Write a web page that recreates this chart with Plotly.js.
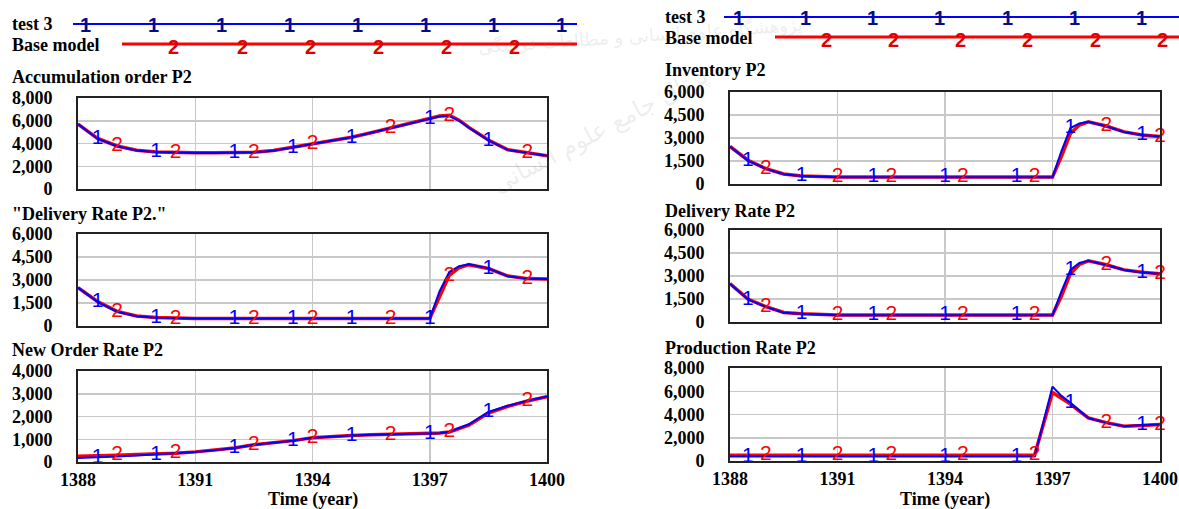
<!DOCTYPE html>
<html>
<head>
<meta charset="utf-8">
<script src="https://cdn.plot.ly/plotly-3.0.1.min.js"></script>
<style>
  html, body { margin: 0; padding: 0; background: #fff; }
  #chart { width: 1179px; height: 509px; }
</style>
</head>
<body>
<div id="chart"></div>
<script>
// Simulation time (year) shared by every series
const time = [1388, 1388.5, 1389, 1389.5, 1390, 1390.5, 1391, 1391.5, 1392, 1392.5,
              1393, 1393.5, 1394, 1394.5, 1395, 1395.5, 1396, 1396.5, 1397, 1397.25,
              1397.5, 1397.75, 1398, 1398.5, 1399, 1399.5, 1400];

// Accumulation order P2
const accumBase = [5700, 4450, 3780, 3400, 3260, 3200, 3180, 3180, 3180, 3230,
                   3380, 3660, 3970, 4260, 4550, 4950, 5350, 5750, 6200, 6420,
                   6480, 6050, 5420, 4300, 3450, 3160, 2920];
const accumTest = [5700, 4420, 3760, 3390, 3250, 3190, 3170, 3170, 3170, 3220,
                   3370, 3650, 3960, 4250, 4540, 4940, 5340, 5740, 6200, 6380,
                   6420, 6000, 5400, 4280, 3440, 3150, 2920];

// "Delivery Rate P2." (left)
const delivLBase = [2500, 1600, 950, 650, 550, 500, 490, 490, 490, 490,
                    490, 490, 490, 490, 490, 490, 490, 490, 490, 1900,
                    3300, 3800, 4000, 3750, 3260, 3090, 3060];
const delivLTest = [2500, 1580, 930, 640, 545, 495, 485, 485, 485, 485,
                    485, 485, 485, 485, 485, 485, 485, 485, 485, 2250,
                    3520, 3900, 4020, 3760, 3250, 3080, 3060];

// New Order Rate P2
const orderBase = [250, 260, 300, 330, 350, 390, 445, 520, 620, 760,
                   850, 940, 1070, 1130, 1170, 1200, 1220, 1240, 1260, 1270,
                   1320, 1450, 1620, 2150, 2450, 2680, 2870];
const orderTest = [180, 200, 240, 290, 330, 380, 440, 515, 615, 755,
                   845, 935, 1065, 1125, 1165, 1195, 1215, 1235, 1255, 1265,
                   1330, 1480, 1660, 2200, 2470, 2690, 2880];

// Inventory P2
const invBase = [2450, 1550, 1000, 650, 520, 470, 450, 450, 450, 450,
                 450, 450, 450, 450, 450, 450, 450, 450, 450, 1800,
                 3300, 3850, 4050, 3780, 3400, 3200, 3100];
const invTest = [2450, 1530, 990, 640, 515, 465, 445, 445, 445, 445,
                 445, 445, 445, 445, 445, 445, 445, 445, 445, 2150,
                 3650, 3950, 4060, 3770, 3390, 3190, 3100];

// Delivery Rate P2 (right)
const delivRBase = [2500, 1500, 1000, 620, 540, 480, 450, 450, 450, 450,
                    450, 450, 450, 450, 450, 450, 450, 450, 450, 1700,
                    3150, 3750, 3990, 3730, 3400, 3240, 3150];
const delivRTest = [2500, 1480, 990, 610, 535, 475, 445, 445, 445, 445,
                    445, 445, 445, 445, 445, 445, 445, 445, 445, 2000,
                    3400, 3850, 4000, 3720, 3390, 3230, 3150];

// Production Rate P2
const prodBase = [500, 500, 500, 500, 500, 500, 500, 500, 500, 500,
                  500, 500, 500, 500, 500, 500, 500, 500, 5900, 5400,
                  4900, 4300, 3700, 3300, 3000, 3050, 3150];
const prodTest = [380, 380, 380, 380, 380, 380, 380, 380, 380, 380,
                  380, 380, 380, 380, 380, 380, 380, 380, 6400, 5600,
                  5000, 4350, 3700, 3280, 3000, 3100, 3150];

// Times at which the run numbers are printed on each curve
const leftMarksTest  = [1388.5, 1390, 1392, 1393.5, 1395, 1397, 1398.5];
const leftMarksBase  = [1389, 1390.5, 1392.5, 1394, 1396, 1397.5, 1399.5];
const rightMarksTest = [1388.5, 1390, 1392, 1394, 1396, 1397.5, 1399.5];
const rightMarksBase = [1389, 1391, 1392.5, 1394.5, 1396.5, 1398.5, 1400];

// Run names and shared labels
const runTest = 'test 3';
const runBase = 'Base model';
const timeLabel = 'Time (year)';
const sealTop = 'پژوهشگاه علوم انسانی و مطالعات فرهنگی';
const sealBottom = 'پرتال جامع علوم انسانی';

const W = 1179, H = 509;
const px = x => x / W;
const py = y => 1 - y / H;

const BLUE = '#0000ff', RED = '#ff0000';
const labelFont = {family: 'Liberation Serif', size: 18, color: '#000', weight: 'bold'};
const tickFont = {family: 'Liberation Serif', size: 18, color: '#000', weight: 'bold'};

const panels = [
  {title: 'Accumulation order P2', base: accumBase, test: accumTest, ymax: 8000, dtick: 2000,
   x0: 78, x1: 547, top: 98, bottom: 189, titleY: 77, side: 'left', last: false},
  {title: '"Delivery Rate P2."', base: delivLBase, test: delivLTest, ymax: 6000, dtick: 1500,
   x0: 78, x1: 547, top: 234, bottom: 326, titleY: 214, side: 'left', last: false},
  {title: 'New Order Rate P2', base: orderBase, test: orderTest, ymax: 4000, dtick: 1000,
   x0: 78, x1: 547, top: 371, bottom: 462, titleY: 350, side: 'left', last: true},
  {title: 'Inventory P2', base: invBase, test: invTest, ymax: 6000, dtick: 1500,
   x0: 730, x1: 1160, top: 92, bottom: 184, titleY: 70, side: 'right', last: false},
  {title: 'Delivery Rate P2', base: delivRBase, test: delivRTest, ymax: 6000, dtick: 1500,
   x0: 730, x1: 1160, top: 230, bottom: 322, titleY: 211, side: 'right', last: false},
  {title: 'Production Rate P2', base: prodBase, test: prodTest, ymax: 8000, dtick: 2000,
   x0: 730, x1: 1160, top: 368, bottom: 461, titleY: 348, side: 'right', last: true}
];

const data = [];
const layout = {
  width: W, height: H,
  margin: {l: 0, r: 0, t: 0, b: 0},
  paper_bgcolor: '#fff', plot_bgcolor: '#fff',
  showlegend: false,
  annotations: [], shapes: []
};

function markText(marks, label) {
  return time.map(t => marks.includes(t) ? label : '');
}

// Faint institutional seal printed behind the figure
layout.annotations.push({xref: 'paper', yref: 'paper', x: px(640), y: py(36),
  xanchor: 'center', yanchor: 'middle', showarrow: false, text: sealTop, textangle: -4,
  font: {family: 'DejaVu Sans', size: 18, color: 'rgba(120,120,120,0.14)'}});
layout.annotations.push({xref: 'paper', yref: 'paper', x: px(600), y: py(130),
  xanchor: 'center', yanchor: 'middle', showarrow: false, text: sealBottom, textangle: -28,
  font: {family: 'DejaVu Sans', size: 24, color: 'rgba(120,120,120,0.14)'}});

panels.forEach((p, i) => {
  const n = i + 1;
  const xa = 'x' + (n === 1 ? '' : n), ya = 'y' + (n === 1 ? '' : n);
  const xKey = 'xaxis' + (n === 1 ? '' : n), yKey = 'yaxis' + (n === 1 ? '' : n);
  const mTest = p.side === 'left' ? leftMarksTest : rightMarksTest;
  const mBase = p.side === 'left' ? leftMarksBase : rightMarksBase;

  data.push({x: time, y: p.base, xaxis: xa, yaxis: ya, type: 'scatter', mode: 'lines',
             line: {color: RED, width: 3.5}, hoverinfo: 'skip'});
  data.push({x: time, y: p.test, xaxis: xa, yaxis: ya, type: 'scatter', mode: 'lines',
             line: {color: BLUE, width: 2}, hoverinfo: 'skip'});
  data.push({x: time, y: p.base, xaxis: xa, yaxis: ya, type: 'scatter', mode: 'text',
             text: markText(mBase, '2'), textposition: 'middle center', cliponaxis: false,
             textfont: {family: 'Liberation Sans', size: 21, color: RED}, hoverinfo: 'skip'});
  data.push({x: time, y: p.test, xaxis: xa, yaxis: ya, type: 'scatter', mode: 'text',
             text: markText(mTest, '1'), textposition: 'middle center', cliponaxis: false,
             textfont: {family: 'Liberation Sans', size: 21, color: BLUE}, hoverinfo: 'skip'});

  layout[xKey] = {
    domain: [px(p.x0), px(p.x1)], anchor: ya, range: [1388, 1400],
    tick0: 1388, dtick: 3, showgrid: true, gridcolor: '#c8c8c8', gridwidth: 1.5,
    showline: true, linecolor: '#222', linewidth: 2, mirror: true, zeroline: false,
    ticks: '', showticklabels: p.last, tickfont: tickFont, ticklabelstandoff: 0,
    ticklabeloverflow: 'allow', fixedrange: true
  };
  layout[yKey] = {
    domain: [py(p.bottom), py(p.top)], anchor: xa, range: [0, p.ymax],
    tick0: 0, dtick: p.dtick, tickformat: ',d', showgrid: true, gridcolor: '#c8c8c8', gridwidth: 1.5,
    showline: true, linecolor: '#222', linewidth: 2, mirror: true, zeroline: false,
    ticks: '', tickfont: tickFont, ticklabelstandoff: 20, fixedrange: true
  };

  layout.annotations.push({
    xref: 'paper', yref: 'paper', x: px(p.side === 'left' ? 10 : 663), y: py(p.titleY),
    xanchor: 'left', yanchor: 'middle', showarrow: false, text: p.title, font: labelFont
  });
  if (p.last) {
    layout.annotations.push({
      xref: 'paper', yref: 'paper', x: px((p.x0 + p.x1) / 2), y: py(499),
      xanchor: 'center', yanchor: 'middle', showarrow: false, text: timeLabel, font: labelFont
    });
  }
});

// Run key above each column: a coloured line with its run number repeated along it
const keys = [
  {labelX: 10, testY: 24, baseY: 45, testX0: 73, baseX0: 122, xEnd: 577,
   testMark0: 85, baseMark0: 174, step: 68, testCount: 8, baseCount: 6},
  {labelX: 663, testY: 17, baseY: 38, testX0: 724, baseX0: 775, xEnd: 1179,
   testMark0: 738, baseMark0: 826, step: 67.3, testCount: 7, baseCount: 6}
];
keys.forEach(k => {
  layout.annotations.push({xref: 'paper', yref: 'paper', x: px(k.labelX), y: py(k.testY),
    xanchor: 'left', yanchor: 'middle', showarrow: false, text: runTest, font: labelFont});
  layout.annotations.push({xref: 'paper', yref: 'paper', x: px(k.labelX), y: py(k.baseY),
    xanchor: 'left', yanchor: 'middle', showarrow: false, text: runBase, font: labelFont});
  layout.shapes.push({type: 'line', xref: 'paper', yref: 'paper',
    x0: px(k.testX0), x1: px(k.xEnd), y0: py(k.testY), y1: py(k.testY),
    line: {color: BLUE, width: 2}});
  layout.shapes.push({type: 'line', xref: 'paper', yref: 'paper',
    x0: px(k.baseX0), x1: px(k.xEnd), y0: py(k.baseY - 1), y1: py(k.baseY - 1),
    line: {color: RED, width: 3}});
  for (let j = 0; j < k.testCount; j++) {
    layout.annotations.push({xref: 'paper', yref: 'paper', x: px(k.testMark0 + j * k.step), y: py(k.testY + 1),
      xanchor: 'center', yanchor: 'middle', showarrow: false, text: '1',
      font: {family: 'Liberation Sans', size: 20, color: '#0a0a8a', weight: 'bold'}});
  }
  for (let j = 0; j < k.baseCount; j++) {
    layout.annotations.push({xref: 'paper', yref: 'paper', x: px(k.baseMark0 + j * k.step), y: py(k.baseY + 2),
      xanchor: 'center', yanchor: 'middle', showarrow: false, text: '2',
      font: {family: 'Liberation Sans', size: 20, color: '#e00000', weight: 'bold'}});
  }
});

Plotly.newPlot('chart', data, layout, {staticPlot: true, displayModeBar: false});
</script>
</body>
</html>
